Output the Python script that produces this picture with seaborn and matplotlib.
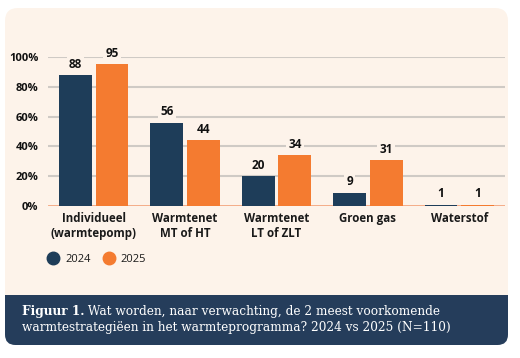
import matplotlib
matplotlib.use("Agg")
import matplotlib.pyplot as plt
from matplotlib.patches import FancyBboxPatch, Rectangle
from matplotlib.lines import Line2D
import seaborn as sns
import pandas as pd

categories = ["Individueel\n(warmtepomp)", "Warmtenet\nMT of HT", "Warmtenet\nLT of ZLT", "Groen gas", "Waterstof"]
values_2024 = [88, 56, 20, 9, 1]
values_2025 = [95, 44, 34, 31, 1]
years = ["2024", "2025"]
yticks = [0, 20, 40, 60, 80, 100]
ytick_labels = ["0%", "20%", "40%", "60%", "80%", "100%"]
caption_bold = "Figuur 1."
caption_line1 = " Wat worden, naar verwachting, de 2 meest voorkomende"
caption_line2 = "warmtestrategiëen in het warmteprogramma? 2024 vs 2025 (N=110)"

NAVY = "#1e3d59"
ORANGE = "#f47b30"
CREAM = "#fdf3ea"
BAND = "#253d5b"

df = pd.DataFrame({
    "cat": categories * 2,
    "year": [years[0]] * len(categories) + [years[1]] * len(categories),
    "val": values_2024 + values_2025,
})

sns.set_theme(style="white")
plt.rcParams["font.family"] = ["Open Sans", "DejaVu Sans"]

W, H = 520, 358
fig = plt.figure(figsize=(W / 100, H / 100), dpi=100)
fig.patch.set_facecolor("white")

def fx(x): return x / W
def fy(y): return 1 - y / H

# card
card = FancyBboxPatch((fx(5), fy(345)), fx(508) - fx(5), fy(8) - fy(345),
                      boxstyle="round,pad=0,rounding_size=0.025", transform=fig.transFigure,
                      facecolor=CREAM, edgecolor="none", zorder=0, mutation_aspect=W / H)
fig.patches.append(card)
band = FancyBboxPatch((fx(5), fy(345)), fx(508) - fx(5), fy(295) - fy(345),
                      boxstyle="round,pad=0,rounding_size=0.02", transform=fig.transFigure,
                      facecolor=BAND, edgecolor="none", zorder=1, mutation_aspect=W / H)
fig.patches.append(band)
fig.patches.append(Rectangle((fx(5), fy(315)), fx(508) - fx(5), fy(295) - fy(315),
                             transform=fig.transFigure, facecolor=BAND, edgecolor="none", zorder=1))

ax = fig.add_axes([fx(48), fy(206), fx(505) - fx(48), fy(57) - fy(206)])
ax.set_zorder(5)
ax.set_facecolor("none")
sns.barplot(data=df, x="cat", y="val", hue="year", palette=[NAVY, ORANGE],
            width=0.8, gap=0.1, ax=ax, legend=False, saturation=1, zorder=3,
            linewidth=0, edgecolor="none")
ax.set_xlim(-0.5, len(categories) - 0.5)
ax.set_ylim(0, 100)
ax.set_yticks(yticks)
ax.set_yticklabels(ytick_labels, fontsize=8, fontweight="bold", color="#111111")
ax.set_xlabel("")
ax.set_ylabel("")
ax.tick_params(axis="both", length=0)
ax.tick_params(axis="y", pad=7)
ax.tick_params(axis="x", pad=4)
for lab in ax.get_xticklabels():
    lab.set_fontsize(8.3)
    lab.set_fontweight("bold")
    lab.set_color("#1a1a1a")
    lab.set_linespacing(1.25)
for y in yticks[1:]:
    ax.axhline(y, color="#cfcac5", lw=1.5, zorder=1)
ax.axhline(0, color="#f3a680", lw=2, zorder=2)
for s in ax.spines.values():
    s.set_visible(False)
for cont in ax.containers:
    texts = ax.bar_label(cont, padding=3, fontsize=8.5, fontweight="bold", color="#111111")
    for t in texts:
        t.set_bbox(dict(facecolor=CREAM, edgecolor="none", pad=1.5))
        t.set_zorder(4)

handles = [Line2D([], [], marker="o", linestyle="none", markersize=9, color=c) for c in (NAVY, ORANGE)]
leg = fig.legend(handles, years, loc="center left", bbox_to_anchor=(fx(42), fy(259)), ncol=2, frameon=False,
                 fontsize=8, handletextpad=0.1, columnspacing=0.6, labelcolor="#1a1a1a",
                 borderaxespad=0, borderpad=0)
leg.set_zorder(6)

cap_fs = 8.7
tb = fig.text(fx(22), fy(312), caption_bold, fontsize=cap_fs, fontweight="bold", color="white",
              family=["DejaVu Serif"], va="center", ha="left", zorder=6)
fig.canvas.draw()
ext = tb.get_window_extent(fig.canvas.get_renderer())
fig.text(ext.x1 / W, fy(312), caption_line1, fontsize=cap_fs, color="white",
         family=["DejaVu Serif"], va="center", ha="left", zorder=6)
fig.text(fx(22), fy(327.5), caption_line2, fontsize=cap_fs, color="white",
         family=["DejaVu Serif"], va="center", ha="left", zorder=6)

fig.savefig("out.png", dpi=100, facecolor="white")
